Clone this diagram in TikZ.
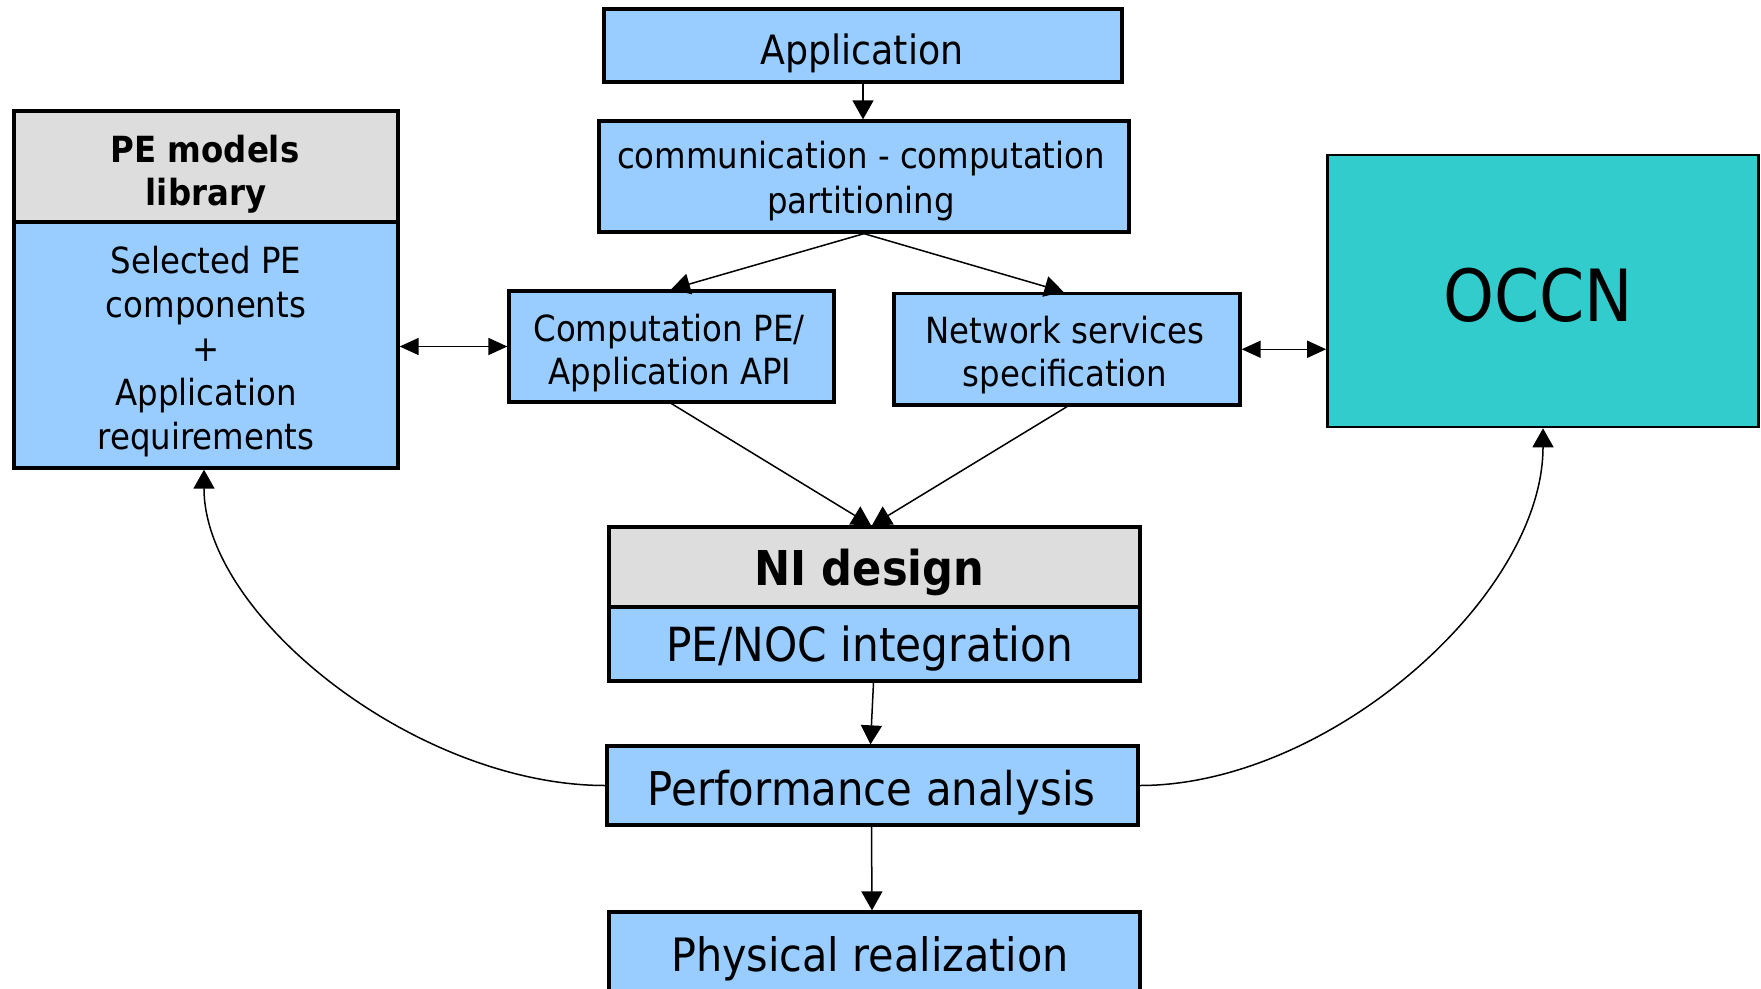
\documentclass[tikz,border=0pt]{standalone}
\usepackage{fontspec}
\setmainfont{DejaVu Sans}[FakeStretch=0.9]
\usetikzlibrary{arrows.meta}
\definecolor{boxblue}{HTML}{99CCFF}
\definecolor{headgray}{HTML}{DDDDDD}
\definecolor{occnteal}{HTML}{33CCCC}

\begin{document}
\begin{tikzpicture}[x=1pt,y=-1pt,
  box/.style={draw=black, line width=3.3pt, fill=boxblue, rectangle, inner sep=0pt},
  headbox/.style={box, fill=headgray},
  lbl/.style={inner sep=0pt, anchor=base, text=black},
  fs/.style={font=\fontsize{#1}{#1}\selectfont},
  bfs/.style={font=\fontsize{#1}{#1}\selectfont\bfseries},
  conn/.style={draw=black, line width=1.5pt, -{Triangle[length=19pt,width=21pt]}},
  both/.style={draw=black, line width=1.5pt, {Triangle[length=19pt,width=17pt]}-{Triangle[length=19pt,width=17pt]}}
]
\useasboundingbox (0,0) rectangle (1761,988);
\clip (0,0) rectangle (1761,988);

% boxes
\node[box, minimum width=518pt, minimum height=73pt] (app) at (863,45.5) {};
\node[box, minimum width=530pt, minimum height=111pt] (comm) at (864,176.5) {};
\node[headbox, minimum width=384pt, minimum height=111pt] (pehead) at (206,166.5) {};
\node[box, minimum width=384pt, minimum height=246pt] (pebody) at (206,345) {};
\node[box, minimum width=325pt, minimum height=111pt] (comp) at (671.5,346.5) {};
\node[box, minimum width=346pt, minimum height=111.5pt] (net) at (1067,349.25) {};
\node[box, fill=occnteal, line width=2.6pt, minimum width=431pt, minimum height=272pt] (occn) at (1543,291) {};
\node[headbox, minimum width=531pt, minimum height=80pt] (nihead) at (874.5,567) {};
\node[box, minimum width=531pt, minimum height=74pt] (nibody) at (874.5,644) {};
\node[box, minimum width=531pt, minimum height=79pt] (perf) at (872.5,785.5) {};
\node[box, minimum width=531pt, minimum height=118pt] (phys) at (874.5,971) {};

% labels
\node[lbl, fs=40.4] (appT) at (862,64) {Application};
\node[lbl, fs=36] (commA) at (861,168.3) {communication - computation};
\node[lbl, fs=36] (commB) at (861,213.3) {partitioning};
\node[lbl, bfs=36] (peH1) at (205,162.7) {PE models};
\node[lbl, bfs=36] (peH2) at (206,205) {library};
\node[lbl, fs=36] (peB1) at (206,273.5) {Selected PE};
\node[lbl, fs=36] (peB2) at (206,317.5) {components};
\node[lbl, fs=36] (peB3) at (206,361.5) {+};
\node[lbl, fs=36] (peB4) at (206,405.5) {Application};
\node[lbl, fs=36] (peB5) at (206,449.5) {requirements};
\node[lbl, fs=36] (compA) at (669,341.5) {Computation PE/};
\node[lbl, fs=36] (compB) at (670,384.5) {Application API};
\node[lbl, fs=36] (netA) at (1065,343.3) {Network services};
\node[lbl, fs=36] (netB) at (1065,386.7) {specification};
\node[lbl, fs=72] (occnT) at (1538,321.7) {OCCN};
\node[lbl, bfs=48] (niT) at (869.5,585) {NI design};
\node[lbl, fs=47] (nibT) at (869.7,661.7) {PE/NOC integration};
\node[lbl, fs=46.5] (perfT) at (871.5,805) {Performance analysis};
\node[lbl, fs=46] (physT) at (870,971.7) {Physical realization};

% connectors
\draw[conn] (app.south) -- (app.south |- comm.north);
\draw[conn] (comm.south) -- ([xshift=-0.5pt]comp.north);
\draw[conn] (comm.south) -- ([xshift=-3.5pt]net.north);
\draw[conn] (comp.south) -- ([xshift=-3.5pt]nihead.north);
\draw[conn] (net.south) -- ([xshift=-2.5pt]nihead.north);
\draw[conn] ([xshift=-1pt]nibody.south) -- ([xshift=-2pt]perf.north);
\draw[conn] ([xshift=-1pt]perf.south) -- ([xshift=-2.5pt]phys.north);
\draw[both] (pebody.east |- comp.west) -- (comp.west);
\draw[both] (net.east) -- (net.east -| occn.west);
\draw[conn] (perf.west) .. controls +(-188,0) and +(0,147) .. ([xshift=-2pt]pebody.south);
\draw[conn] (perf.east) .. controls +(189,0) and +(0,168) .. (occn.south);
\end{tikzpicture}
\end{document}
